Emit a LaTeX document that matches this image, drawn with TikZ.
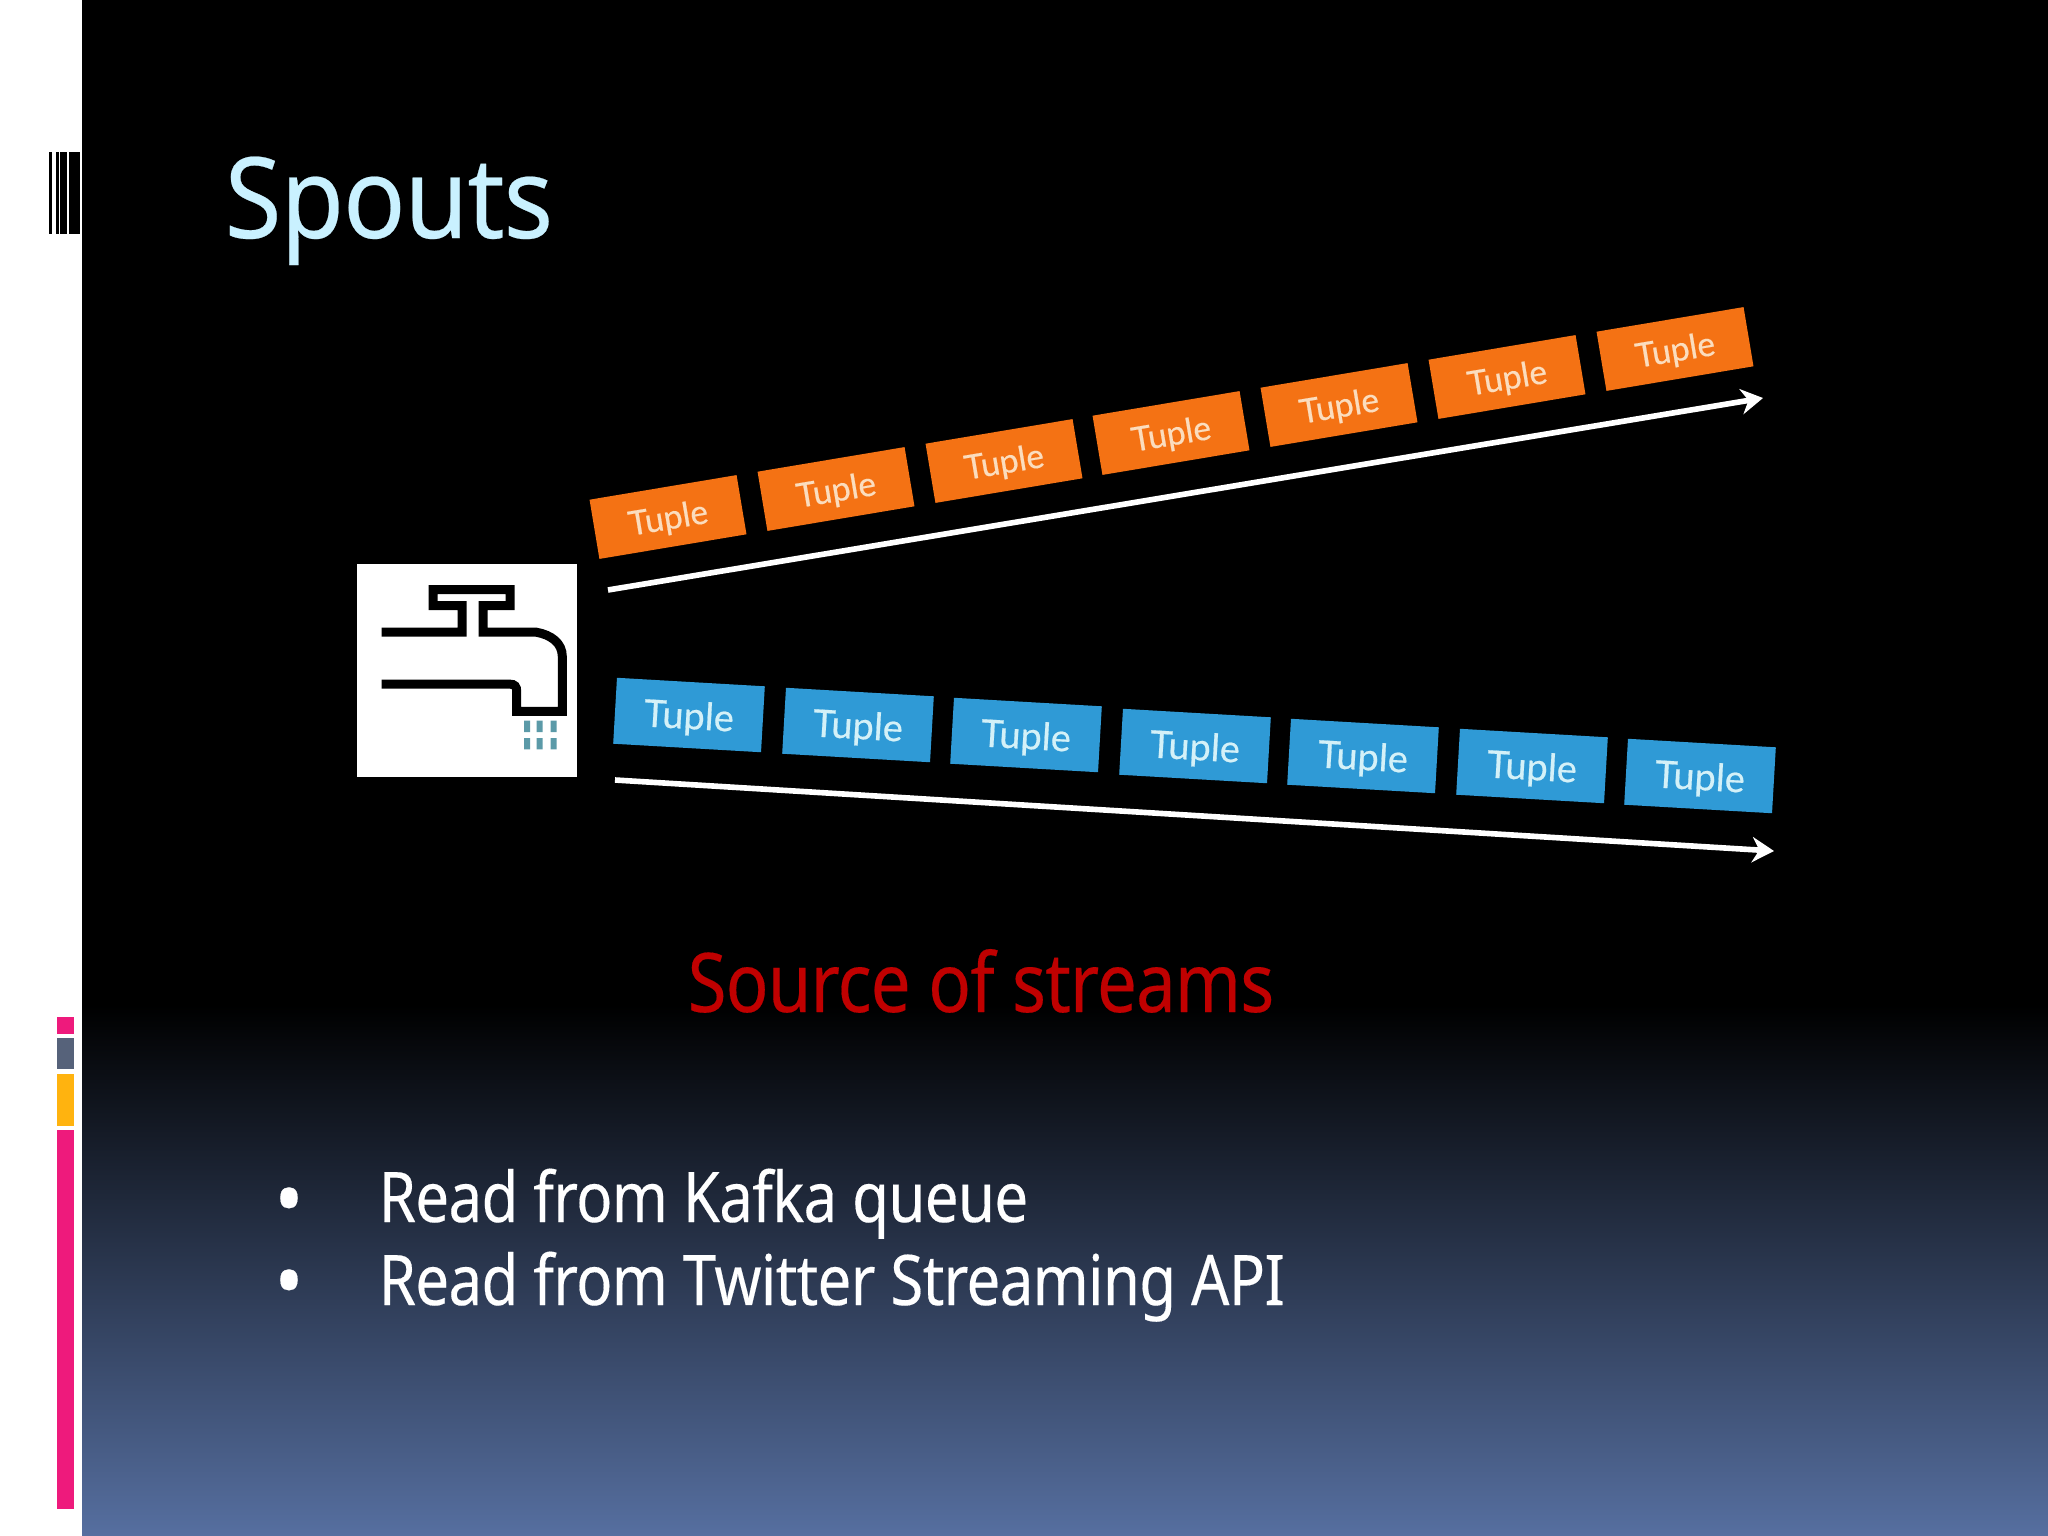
\documentclass[tikz,border=0pt]{standalone}
\usepackage{fontspec}
\usepackage{tikz}
\usetikzlibrary{arrows.meta}
\setmainfont{Noto Sans}[FakeStretch=0.86,LetterSpace=-1,FakeBold=0.2]
\newfontfamily\titlefont{Noto Sans}[FakeStretch=0.92,LetterSpace=-1,FakeBold=0.2]
\newfontfamily\tuplefont{Lato}[FakeBold=0.5]
\definecolor{titleblue}{HTML}{C9F1FF}
\definecolor{slidered}{HTML}{C00000}
\definecolor{tupleorange}{HTML}{F47214}
\definecolor{tupleblue}{HTML}{2F9AD6}
\definecolor{orangetext}{HTML}{FBDDBE}
\definecolor{bluetext}{HTML}{D4F1F8}
\definecolor{slidebottom}{HTML}{566FA0}
\definecolor{barpink}{HTML}{EE1A7C}
\definecolor{bargray}{HTML}{56627A}
\definecolor{baryellow}{HTML}{FFB30F}
\definecolor{dropblue}{HTML}{5B9AA8}
\tikzset{
    orangetuple/.style={fill=tupleorange, text=orangetext, minimum width=1.49cm, minimum height=0.6cm, inner sep=0pt, rotate=9.5, text depth=0pt, font=\tuplefont\fontsize{9.6}{11}\selectfont},
    bluetuple/.style={fill=tupleblue, text=bluetext, minimum width=1.48cm, minimum height=0.66cm, inner sep=0pt, rotate=-3.3, text depth=0pt, font=\tuplefont\fontsize{10.8}{12}\selectfont},
    flowarrow/.style={-{Stealth[length=6.2pt, width=7.2pt, inset=2pt]}, white, line width=1.6pt},
    tapline/.style={black, line width=2.56pt, line join=miter},
    bodytext/.style={white, anchor=base west, inner sep=0pt, font=\fontsize{19.85}{24}\selectfont},
    bulletmark/.style={white, inner sep=0pt, font=\titlefont\fontsize{24}{24}\selectfont},
}
\begin{document}
\begin{tikzpicture}[x=0.01cm, y=-0.01cm]
    \useasboundingbox (0,0) rectangle (2048,1536);
    % slide background
    \fill[white] (0,0) rectangle (2048,1536);
    \fill[black] (82,0) rectangle (2048,1005);
    \shade[top color=black, bottom color=slidebottom] (82,1005) rectangle (2048,1536);
    % strip on the left
    \fill[black] (49,152) rectangle (52,234);
    \fill[black] (56,152) rectangle (59,234);
    \fill[black] (60,152) rectangle (67,234);
    \fill[black] (69,152) rectangle (80,234);
    \fill[barpink] (57,1017) rectangle (74,1034);
    \fill[bargray] (57,1038) rectangle (74,1069);
    \fill[baryellow] (57,1074) rectangle (74,1126);
    \fill[barpink] (57,1130) rectangle (74,1509);
    % title
    \node[anchor=base west, inner sep=0pt, text=titleblue, font=\titlefont\fontsize{32}{40}\selectfont] at (224,238) (title) {Spouts};
    % tap
    \node[fill=white, minimum width=2.2cm, minimum height=2.13cm, inner sep=0pt] at (467,670.5) (tapbox) {};
    \begin{scope}[shift={(340,550)}, x=0.003333cm, y=-0.003333cm]
        \draw[tapline] (125,247) -- (367,247) -- (367,167) -- (280,167) -- (280,119) -- (511,119) -- (511,167) -- (430,167) -- (430,247) -- (590,247) .. controls (635,255) and (668,280) .. (668,320) -- (668,485) -- (531,485) -- (531,425) .. controls (531,410) and (525,403) .. (510,403) -- (125,403);
        \fill[dropblue] (553,513) rectangle (571,547) (591,513) rectangle (609,547) (633,513) rectangle (651,547)
                        (553,565) rectangle (571,599) (591,565) rectangle (609,599) (633,565) rectangle (651,599);
    \end{scope}
    % upper stream
    \node[orangetuple] at (668,517) (upper1) {Tuple};
    \node[orangetuple] at (836,489) (upper2) {Tuple};
    \node[orangetuple] at (1004,461) (upper3) {Tuple};
    \node[orangetuple] at (1171,433) (upper4) {Tuple};
    \node[orangetuple] at (1339,405) (upper5) {Tuple};
    \node[orangetuple] at (1507,377) (upper6) {Tuple};
    \node[orangetuple] at (1675,349) (upper7) {Tuple};
    \coordinate (upperstart) at (608,590);
    \coordinate (upperend) at (1763,398);
    \draw[flowarrow] (upperstart) -- (upperend);
    % lower stream
    \node[bluetuple] at (689,715) (lower1) {Tuple};
    \node[bluetuple] at (858,725) (lower2) {Tuple};
    \node[bluetuple] at (1026,735) (lower3) {Tuple};
    \node[bluetuple] at (1195,746) (lower4) {Tuple};
    \node[bluetuple] at (1363,756) (lower5) {Tuple};
    \node[bluetuple] at (1532,766) (lower6) {Tuple};
    \node[bluetuple] at (1700,776) (lower7) {Tuple};
    \coordinate (lowerstart) at (615,780);
    \coordinate (lowerend) at (1774,851);
    \draw[flowarrow] (lowerstart) -- (lowerend);
    % caption and bullets
    \node[anchor=base west, inner sep=0pt, text=slidered, font=\fontsize{23.4}{28}\selectfont] at (687,1012) (caption) {Source of streams};
    \node[bulletmark] at (289,1208) (bullet1) {\textbullet};
    \node[bodytext] at (378,1222) (kafka) {Read from Kafka queue};
    \node[bulletmark] at (289,1290) (bullet2) {\textbullet};
    \node[bodytext] at (378,1305) (twitter) {Read from Twitter Streaming API};
\end{tikzpicture}
\end{document}
